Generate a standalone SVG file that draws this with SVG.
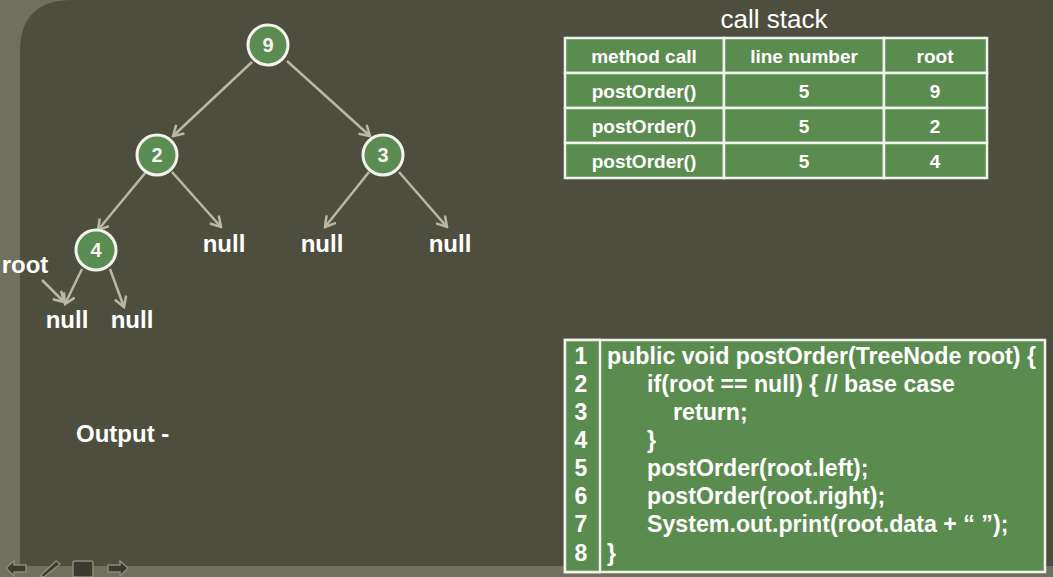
<svg xmlns="http://www.w3.org/2000/svg" width="1053" height="577" viewBox="0 0 1053 577">
<defs>
<style>
.edge{stroke:#b9b9a3;stroke-width:2.5;fill:none;marker-end:url(#chev)}
.node circle{fill:#5b8c51;stroke:#f2f2ee;stroke-width:3}
.node text{fill:#f4f4f0;font-family:"Liberation Sans",Arial,sans-serif;font-size:20px;font-weight:bold;text-anchor:middle}
.lbl{fill:#ffffff;font-family:"Liberation Sans",Arial,sans-serif;font-size:24px;font-weight:bold}
.title{fill:#ffffff;font-family:"Liberation Sans",Arial,sans-serif;font-size:26px}
.cell{fill:#5b8c4f;stroke:#f2f2ee;stroke-width:2.5}
.ct{fill:#ffffff;font-family:"Liberation Sans",Arial,sans-serif;font-size:19px;font-weight:bold;text-anchor:middle}
.code{fill:#ffffff;font-family:"Liberation Sans",Arial,sans-serif;font-size:23.2px;font-weight:bold}
.ln{fill:#ffffff;font-family:"Liberation Sans",Arial,sans-serif;font-size:23px;font-weight:bold;text-anchor:middle}
</style>
<marker id="chev" viewBox="0 0 14 14" refX="12" refY="7" markerWidth="14" markerHeight="14" markerUnits="userSpaceOnUse" orient="auto">
<path d="M2,1 L12,7 L2,13" fill="none" stroke="#b9b9a3" stroke-width="2.5"/>
</marker>
</defs>
<rect x="0" y="0" width="1053" height="577" fill="#6f705e"/>
<path d="M72,0 H1053 V566 H20 V52 Q20,0 72,0 Z" fill="#4e4e3f"/>

<g id="connectors">
<line class="edge" x1="252" y1="62" x2="173" y2="136"/>
<line class="edge" x1="287" y1="61" x2="370" y2="136"/>
<line class="edge" x1="146" y1="172" x2="98" y2="230"/>
<line class="edge" x1="172" y1="172" x2="221" y2="227"/>
<line class="edge" x1="369" y1="172" x2="325" y2="227"/>
<line class="edge" x1="399" y1="172" x2="447" y2="227"/>
<line class="edge" x1="82" y1="269" x2="65" y2="304"/>
<line class="edge" x1="110" y1="269" x2="124" y2="307"/>
<line class="edge" x1="42" y1="280" x2="64" y2="302"/>
</g>

<g id="n9" class="node"><circle cx="268" cy="45" r="20"/><text x="268" y="52">9</text></g>
<g id="n2" class="node"><circle cx="157" cy="155" r="20"/><text x="157" y="162">2</text></g>
<g id="n3" class="node"><circle cx="383" cy="155" r="20"/><text x="383" y="162">3</text></g>
<g id="n4" class="node"><circle cx="96" cy="250" r="20"/><text x="96" y="257">4</text></g>

<g id="nulls">
<text class="lbl" x="224" y="252" text-anchor="middle">null</text>
<text class="lbl" x="322" y="252" text-anchor="middle">null</text>
<text class="lbl" x="450" y="252" text-anchor="middle">null</text>
<text class="lbl" x="67" y="328" text-anchor="middle">null</text>
<text class="lbl" x="132" y="328" text-anchor="middle">null</text>
</g>
<text id="root-label" class="lbl" x="25" y="273" text-anchor="middle">root</text>
<text id="output" class="lbl" x="76" y="442">Output -</text>

<g id="callstack">
<text class="title" x="774" y="28" text-anchor="middle">call stack</text>
<rect class="cell" x="565" y="38" width="159" height="35"/>
<rect class="cell" x="724" y="38" width="160" height="35"/>
<rect class="cell" x="884" y="38" width="103" height="35"/>
<rect class="cell" x="565" y="73" width="159" height="35"/>
<rect class="cell" x="724" y="73" width="160" height="35"/>
<rect class="cell" x="884" y="73" width="103" height="35"/>
<rect class="cell" x="565" y="108" width="159" height="35"/>
<rect class="cell" x="724" y="108" width="160" height="35"/>
<rect class="cell" x="884" y="108" width="103" height="35"/>
<rect class="cell" x="565" y="143" width="159" height="35"/>
<rect class="cell" x="724" y="143" width="160" height="35"/>
<rect class="cell" x="884" y="143" width="103" height="35"/>
<text class="ct" x="644" y="63">method call</text>
<text class="ct" x="804" y="63">line number</text>
<text class="ct" x="935" y="63">root</text>
<text class="ct" x="644" y="98">postOrder()</text>
<text class="ct" x="804" y="98">5</text>
<text class="ct" x="935" y="98">9</text>
<text class="ct" x="644" y="133">postOrder()</text>
<text class="ct" x="804" y="133">5</text>
<text class="ct" x="935" y="133">2</text>
<text class="ct" x="644" y="168">postOrder()</text>
<text class="ct" x="804" y="168">5</text>
<text class="ct" x="935" y="168">4</text>
</g>

<g id="code">
<rect class="cell" x="565" y="340" width="480" height="232"/>
<rect class="cell" x="565" y="340" width="35" height="232"/>
<text class="ln" x="581" y="364">1</text>
<text class="ln" x="581" y="392">2</text>
<text class="ln" x="581" y="420">3</text>
<text class="ln" x="581" y="448">4</text>
<text class="ln" x="581" y="476">5</text>
<text class="ln" x="581" y="504">6</text>
<text class="ln" x="581" y="532">7</text>
<text class="ln" x="581" y="561">8</text>
<text class="code" x="607" y="364">public void postOrder(TreeNode root) {</text>
<text class="code" x="647" y="392">if(root == null) { // base case</text>
<text class="code" x="673" y="420">return;</text>
<text class="code" x="647" y="448">}</text>
<text class="code" x="647" y="476">postOrder(root.left);</text>
<text class="code" x="647" y="504">postOrder(root.right);</text>
<text class="code" x="647" y="532">System.out.print(root.data + “ ”);</text>
<text class="code" x="607" y="561">}</text>
</g>

<g id="nav" fill="#3a3a30" stroke="#8a8b78" stroke-width="1.5">
<path d="M6,568 L14,561 V565 H26 V572 H14 V576 Z"/>
<path d="M40,576 L56,561 L60,564 L44,577 Z"/>
<rect x="73" y="561" width="20" height="16" rx="2"/>
<path d="M128,568 L120,561 V565 H108 V572 H120 V576 Z"/>
</g>
</svg>
